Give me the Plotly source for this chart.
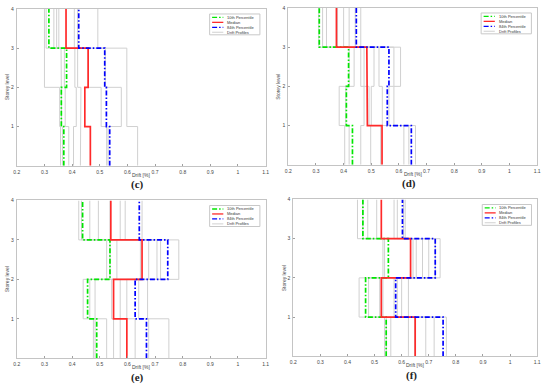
import plotly.graph_objects as go

# ---------------- data (per storey: storey 1 .. storey 4) ----------------
panel_labels = ["(c)", "(d)", "(e)", "(f)"]
storey_edges = [0, 1, 2, 3, 4]

p10_c = [0.370, 0.361, 0.380, 0.316]
med_c = [0.466, 0.446, 0.458, 0.378]
p84_c = [0.536, 0.524, 0.518, 0.424]
gray_c = [
    [0.358, 0.365, 0.388, 0.405, 0.430, 0.525, 0.530, 0.637],
    [0.355, 0.362, 0.375, 0.415, 0.432, 0.505, 0.578, 0.598],
    [0.300, 0.360, 0.372, 0.410, 0.420, 0.458, 0.520, 0.598],
    [0.300, 0.306, 0.334, 0.344, 0.352, 0.408, 0.420, 0.493],
]

p10_d = [0.432, 0.410, 0.418, 0.312]
med_d = [0.539, 0.486, 0.484, 0.374]
p84_d = [0.645, 0.558, 0.564, 0.446]
gray_d = [
    [0.404, 0.420, 0.462, 0.498, 0.534, 0.618, 0.636, 0.660],
    [0.384, 0.408, 0.474, 0.492, 0.500, 0.540, 0.564, 0.582],
    [0.420, 0.438, 0.462, 0.474, 0.510, 0.528, 0.582, 0.606],
    [0.310, 0.324, 0.338, 0.378, 0.400, 0.420, 0.442, 0.462],
]

p10_e = [0.489, 0.456, 0.537, 0.438]
med_e = [0.598, 0.550, 0.653, 0.540]
p84_e = [0.669, 0.628, 0.746, 0.643]
gray_e = [
    [0.477, 0.483, 0.525, 0.550, 0.574, 0.628, 0.677, 0.750],
    [0.440, 0.464, 0.483, 0.543, 0.574, 0.598, 0.641, 0.673],
    [0.525, 0.537, 0.562, 0.647, 0.677, 0.707, 0.720, 0.786],
    [0.424, 0.434, 0.464, 0.495, 0.537, 0.574, 0.592, 0.653],
]

p10_f = [0.543, 0.467, 0.551, 0.457]
med_f = [0.650, 0.525, 0.633, 0.525]
p84_f = [0.753, 0.578, 0.724, 0.603]
gray_f = [
    [0.537, 0.543, 0.560, 0.625, 0.648, 0.689, 0.720, 0.765],
    [0.443, 0.478, 0.519, 0.531, 0.572, 0.584, 0.600, 0.625],
    [0.531, 0.537, 0.642, 0.654, 0.677, 0.700, 0.724, 0.742],
    [0.437, 0.457, 0.475, 0.508, 0.572, 0.584, 0.607, 0.613],
]

x_tickvals = [0.2, 0.3, 0.4, 0.5, 0.6, 0.7, 0.8, 0.9, 1.0, 1.1]
x_ticktext = ["0.2", "0.3", "0.4", "0.5", "0.6", "0.7", "0.8", "0.9", "1", "1.1"]
y_tickvals = [1, 2, 3, 4]
y_ticktext = ["1", "2", "3", "4"]

legend_names = ["10th Percentile", "Median", "84th Percentile", "Drift Profiles"]

panels = [
    (p10_c, med_c, p84_c, gray_c),
    (p10_d, med_d, p84_d, gray_d),
    (p10_e, med_e, p84_e, gray_e),
    (p10_f, med_f, p84_f, gray_f),
]

# ---------------- layout geometry (pixels of the 550x389 canvas) ----------------
W, H = 550, 389
# (x0, x1, ytop, ybottom) in pixels
boxes = [
    (14, 266, 6, 164),
    (289, 541, 5, 163),
    (14, 266, 199, 358),
    (294, 541, 198, 356),
]

GREEN = "#00e600"
RED = "#ff2a2a"
BLUE = "#0000ff"
GRAY = "#d0d0d0"
DASHDOT = "5px,2px,1.5px,2px"


def step(values):
    xs, ys = [], []
    for i, v in enumerate(values):
        xs += [v, v]
        ys += [storey_edges[i], storey_edges[i + 1]]
    return xs, ys


fig = go.Figure()
shapes = []
annotations = []

for k, (p10, med, p84, gray) in enumerate(panels):
    sfx = "" if k == 0 else str(k + 1)
    xa, ya = "x" + sfx, "y" + sfx
    n_prof = len(gray[0])
    for j in range(n_prof):
        xs, ys = step([gray[s][j] for s in range(4)])
        fig.add_trace(go.Scatter(x=xs, y=ys, mode="lines", xaxis=xa, yaxis=ya,
                                 line=dict(color=GRAY, width=1), showlegend=False,
                                 hoverinfo="skip"))
    for vals, col, dash in [(p10, GREEN, DASHDOT), (med, RED, "solid"), (p84, BLUE, DASHDOT)]:
        xs, ys = step(vals)
        fig.add_trace(go.Scatter(x=xs, y=ys, mode="lines", xaxis=xa, yaxis=ya,
                                 line=dict(color=col, width=1.7, dash=dash), showlegend=False))

    x0, x1, yt, yb = boxes[k]
    dom_x = [x0 / W, x1 / W]
    dom_y = [1 - yb / H, 1 - yt / H]
    axis_common = dict(showline=True, mirror=True, linecolor="#c4c4c4", linewidth=1,
                       ticks="inside", ticklen=2, tickcolor="#a0a0a0", showgrid=False,
                       zeroline=False, tickfont=dict(size=5, color="#454545", family="Liberation Sans"))
    fig.layout["xaxis" + sfx] = dict(domain=dom_x, anchor=ya, range=[0.2, 1.1],
                                     tickvals=x_tickvals, ticktext=x_ticktext,
                                     ticklabelstandoff=1, **axis_common)
    fig.layout["yaxis" + sfx] = dict(domain=dom_y, anchor=xa, range=[0, 4],
                                     tickvals=y_tickvals, ticktext=y_ticktext,
                                     ticklabelstandoff=1, **axis_common)

    cx = (x0 + x1) / 2
    # axis titles
    annotations.append(dict(text="Drift [%]", x=cx / W, y=1 - (yb + 9) / H, xref="paper", yref="paper",
                            showarrow=False, font=dict(size=5, color="#454545", family="Liberation Sans"),
                            xanchor="center", yanchor="middle"))
    annotations.append(dict(text="Storey level", x=(x0 - 10) / W, y=1 - ((yt + yb) / 2) / H, xref="paper",
                            yref="paper", showarrow=False, textangle=-90,
                            font=dict(size=5, color="#454545", family="Liberation Sans"),
                            xanchor="center", yanchor="middle"))
    # panel label
    annotations.append(dict(text="<b>" + panel_labels[k] + "</b>", x=(cx - 4) / W, y=1 - (yb + 19) / H,
                            xref="paper", yref="paper", showarrow=False,
                            font=dict(size=11, color="#222222", family="Liberation Serif"),
                            xanchor="center", yanchor="middle"))

    # manual compact legend (inside the axes, top-right)
    xd, yd = xa + " domain", ya + " domain"
    lx0, lx1 = 0.775, 0.977
    shapes.append(dict(type="rect", xref=xd, yref=yd, x0=lx0, x1=lx1, y0=0.835, y1=0.968,
                       line=dict(color="#c8c8c8", width=1), fillcolor="white", layer="above"))
    styles = [(GREEN, DASHDOT), (RED, "solid"), (BLUE, DASHDOT), (GRAY, "solid")]
    for i, (name, (col, dash)) in enumerate(zip(legend_names, styles)):
        yy = 0.946 - i * 0.0315
        shapes.append(dict(type="line", xref=xd, yref=yd, x0=lx0 + 0.01, x1=lx0 + 0.055, y0=yy, y1=yy,
                           line=dict(color=col, width=1.3 if col != GRAY else 1, dash=dash), layer="above"))
        annotations.append(dict(text=name, xref=xd, yref=yd, x=lx0 + 0.062, y=yy, showarrow=False,
                                xanchor="left", yanchor="middle",
                                font=dict(size=4, color="#333333", family="Liberation Sans")))

fig.update_layout(width=W, height=H, margin=dict(l=0, r=0, t=0, b=0),
                  paper_bgcolor="white", plot_bgcolor="white", showlegend=False,
                  shapes=shapes, annotations=annotations)

fig.write_html("out.html", config={"displayModeBar": False},
               post_script="document.body.style.margin='0px';document.body.style.overflow='hidden';")
